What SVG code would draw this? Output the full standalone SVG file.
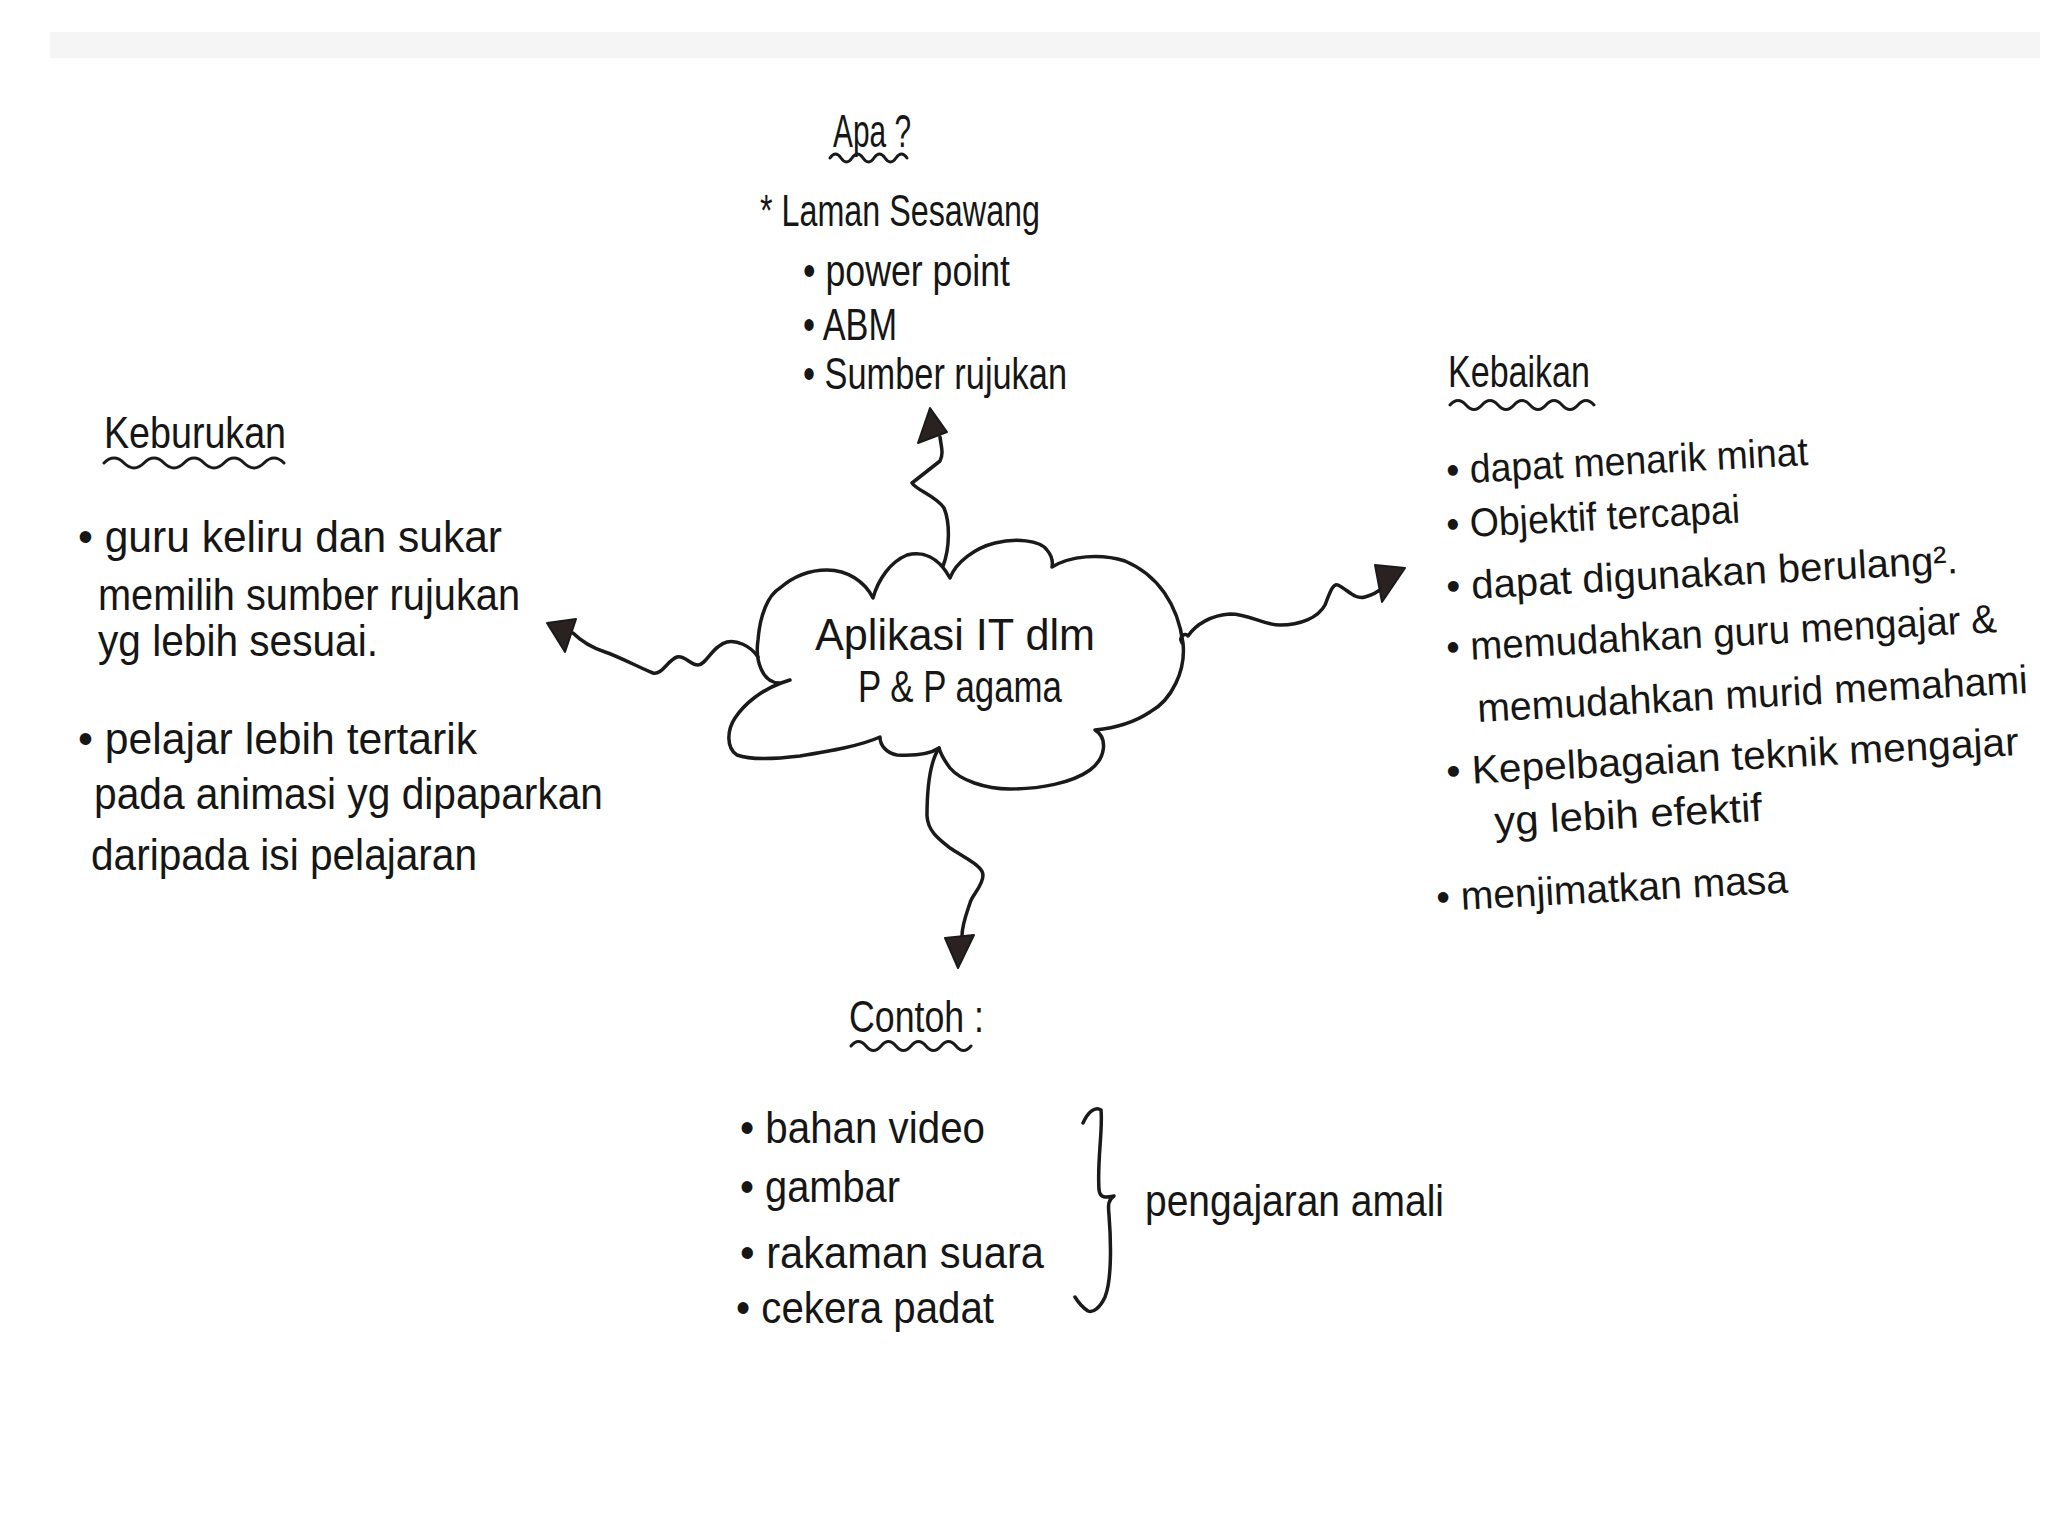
<svg xmlns="http://www.w3.org/2000/svg" width="2048" height="1537" viewBox="0 0 2048 1537">
<style>
  .t { font-family: "Liberation Sans", Arial, sans-serif; font-size: 44px; fill: #161616; }
  .h { font-size: 46px; }
  .k { font-size: 40px; }
  .ln { fill: none; stroke: #1a1a1a; stroke-width: 3.5; stroke-linecap: round; stroke-linejoin: round; }
  .ul { fill: none; stroke: #1a1a1a; stroke-width: 3; stroke-linecap: round; }
  .ah { fill: #2a2220; stroke: #1a1a1a; stroke-width: 2; stroke-linejoin: round; }
</style>
<rect x="0" y="0" width="2048" height="1537" fill="#ffffff"/>
<rect x="50" y="32" width="1990" height="26" fill="#e6e6e6" opacity="0.4"/>

<g id="connectors">
  <path class="ln" d="M943,566 C950,548 950,522 944,508 C936,496 916,490 912,483 L940,461 C944,453 941,446 940,437"/>
  <polygon class="ah" points="930,408 947,432 918,443"/>
  <path class="ln" d="M758,657 C750,645 736,640 727,642 C713,645 706,665 698,665 C690,665 685,655 677,657 C668,660 662,675 653,673 C640,668 620,657 605,652 C590,647 580,640 573,633"/>
  <polygon class="ah" points="547,623 576,619 565,652"/>
  <path class="ln" d="M1182,643 C1178,636 1186,632 1188,636 C1196,624 1212,615 1230,614 C1250,614 1262,625 1280,625 C1300,625 1318,618 1325,605 C1330,592 1333,583 1338,585 C1348,590 1355,600 1365,597 C1372,595 1378,592 1382,588"/>
  <polygon class="ah" points="1375,565 1405,568 1382,602"/>
  <path class="ln" d="M939,748 C930,762 927,790 927,816 C928,832 940,840 950,848 C965,858 983,866 983,875 C983,886 972,895 970,903 C966,915 962,925 962,936"/>
  <polygon class="ah" points="945,938 974,935 958,968"/>
</g>

<g id="node-center">
  <path class="ln" d="M781,683 C762,684 755,660 758,640 C760,615 768,595 780,588 C795,575 812,570 827,570 C848,570 865,582 873,598 C878,580 890,562 907,555 C922,551 938,556 950,578 C956,562 975,548 995,543 C1015,538 1040,540 1047,550 C1052,556 1053,562 1052,567 C1070,556 1100,553 1125,561 C1158,575 1178,605 1183,643 C1186,670 1172,700 1150,712 C1135,722 1115,728 1095,730 C1108,738 1106,758 1090,770 C1072,783 1040,789 1010,789 C985,789 960,780 950,768 C944,760 941,755 939,748 C930,754 915,756 897,755 C886,753 880,745 880,737 C860,746 830,751 800,756 C775,759 750,760 737,755 C726,748 727,730 735,718 C745,703 762,690 781,683 L790,680"/>
  <text class="t" x="815" y="650" textLength="280" lengthAdjust="spacingAndGlyphs">Aplikasi IT dlm</text>
  <text class="t" x="858" y="702" textLength="204" lengthAdjust="spacingAndGlyphs">P &amp; P agama</text>
</g>

<g id="node-apa">
  <text class="t h" x="833" y="147" textLength="78" lengthAdjust="spacingAndGlyphs">Apa ?</text>
  <path class="ul" d="M830,158 q5.5,-8 11,0 t11,0 t11,0 t11,0 t11,0 t11,0 t11,0"/>
  <text class="t" x="760" y="226" textLength="280" lengthAdjust="spacingAndGlyphs">* Laman Sesawang</text>
  <text class="t" x="803" y="286" textLength="207" lengthAdjust="spacingAndGlyphs">• power point</text>
  <text class="t" x="803" y="340" textLength="94" lengthAdjust="spacingAndGlyphs">• ABM</text>
  <text class="t" x="803" y="389" textLength="264" lengthAdjust="spacingAndGlyphs">• Sumber rujukan</text>
</g>

<g id="node-keburukan">
  <text class="t" x="104" y="448" textLength="182" lengthAdjust="spacingAndGlyphs">Keburukan</text>
  <path class="ul" d="M104,463 q10,-10 20,0 t20,0 t20,0 t20,0 t20,0 t20,0 t20,0 t20,0 t20,0"/>
  <text class="t" x="78" y="552" textLength="424" lengthAdjust="spacingAndGlyphs">• guru keliru dan sukar</text>
  <text class="t" x="98" y="610" textLength="422" lengthAdjust="spacingAndGlyphs">memilih sumber rujukan</text>
  <text class="t" x="98" y="656" textLength="280" lengthAdjust="spacingAndGlyphs">yg lebih sesuai.</text>
  <text class="t" x="78" y="754" textLength="399" lengthAdjust="spacingAndGlyphs">• pelajar lebih tertarik</text>
  <text class="t" x="94" y="809" textLength="509" lengthAdjust="spacingAndGlyphs">pada animasi yg dipaparkan</text>
  <text class="t" x="91" y="870" textLength="386" lengthAdjust="spacingAndGlyphs">daripada isi pelajaran</text>
</g>

<g id="node-kebaikan">
  <text class="t" x="1448" y="387" textLength="142" lengthAdjust="spacingAndGlyphs">Kebaikan</text>
  <path class="ul" d="M1450,405 q8,-9 16,0 t16,0 t16,0 t16,0 t16,0 t16,0 t16,0 t16,0 t16,0"/>
  <text class="t k" x="1447" y="484" transform="rotate(-3 1447 484)" textLength="362" lengthAdjust="spacingAndGlyphs">• dapat menarik minat</text>
  <text class="t k" x="1447" y="538" transform="rotate(-3 1447 538)" textLength="294" lengthAdjust="spacingAndGlyphs">• Objektif tercapai</text>
  <text class="t k" x="1447" y="600" transform="rotate(-3 1447 600)" textLength="512" lengthAdjust="spacingAndGlyphs">• dapat digunakan berulang².</text>
  <text class="t k" x="1447" y="661" transform="rotate(-3 1447 661)" textLength="551" lengthAdjust="spacingAndGlyphs">• memudahkan guru mengajar &amp;</text>
  <text class="t k" x="1478" y="722" transform="rotate(-3 1478 722)" textLength="551" lengthAdjust="spacingAndGlyphs">memudahkan murid memahami</text>
  <text class="t k" x="1447" y="785" transform="rotate(-3 1447 785)" textLength="573" lengthAdjust="spacingAndGlyphs">• Kepelbagaian teknik mengajar</text>
  <text class="t k" x="1495" y="835" transform="rotate(-3 1495 835)" textLength="268" lengthAdjust="spacingAndGlyphs">yg lebih efektif</text>
  <text class="t k" x="1437" y="911" transform="rotate(-3 1437 911)" textLength="352" lengthAdjust="spacingAndGlyphs">• menjimatkan masa</text>
</g>

<g id="node-contoh">
  <text class="t" x="849" y="1032" textLength="135" lengthAdjust="spacingAndGlyphs">Contoh :</text>
  <path class="ul" d="M851,1046 q7.5,-9 15,0 t15,0 t15,0 t15,0 t15,0 t15,0 t15,0 t15,0"/>
  <text class="t" x="740" y="1143" textLength="245" lengthAdjust="spacingAndGlyphs">• bahan video</text>
  <text class="t" x="740" y="1202" textLength="160" lengthAdjust="spacingAndGlyphs">• gambar</text>
  <text class="t" x="740" y="1268" textLength="304" lengthAdjust="spacingAndGlyphs">• rakaman suara</text>
  <text class="t" x="736" y="1323" textLength="258" lengthAdjust="spacingAndGlyphs">• cekera padat</text>
  <path class="ln" d="M1083,1123 C1088,1112 1095,1106 1101,1110 C1103,1130 1097,1160 1099,1190 C1100,1198 1106,1198 1114,1196 C1108,1200 1108,1205 1109,1215 C1111,1240 1112,1280 1105,1297 C1100,1308 1093,1313 1088,1311 C1082,1307 1078,1302 1075,1297"/>
  <text class="t" x="1145" y="1216" textLength="299" lengthAdjust="spacingAndGlyphs">pengajaran amali</text>
</g>
</svg>
